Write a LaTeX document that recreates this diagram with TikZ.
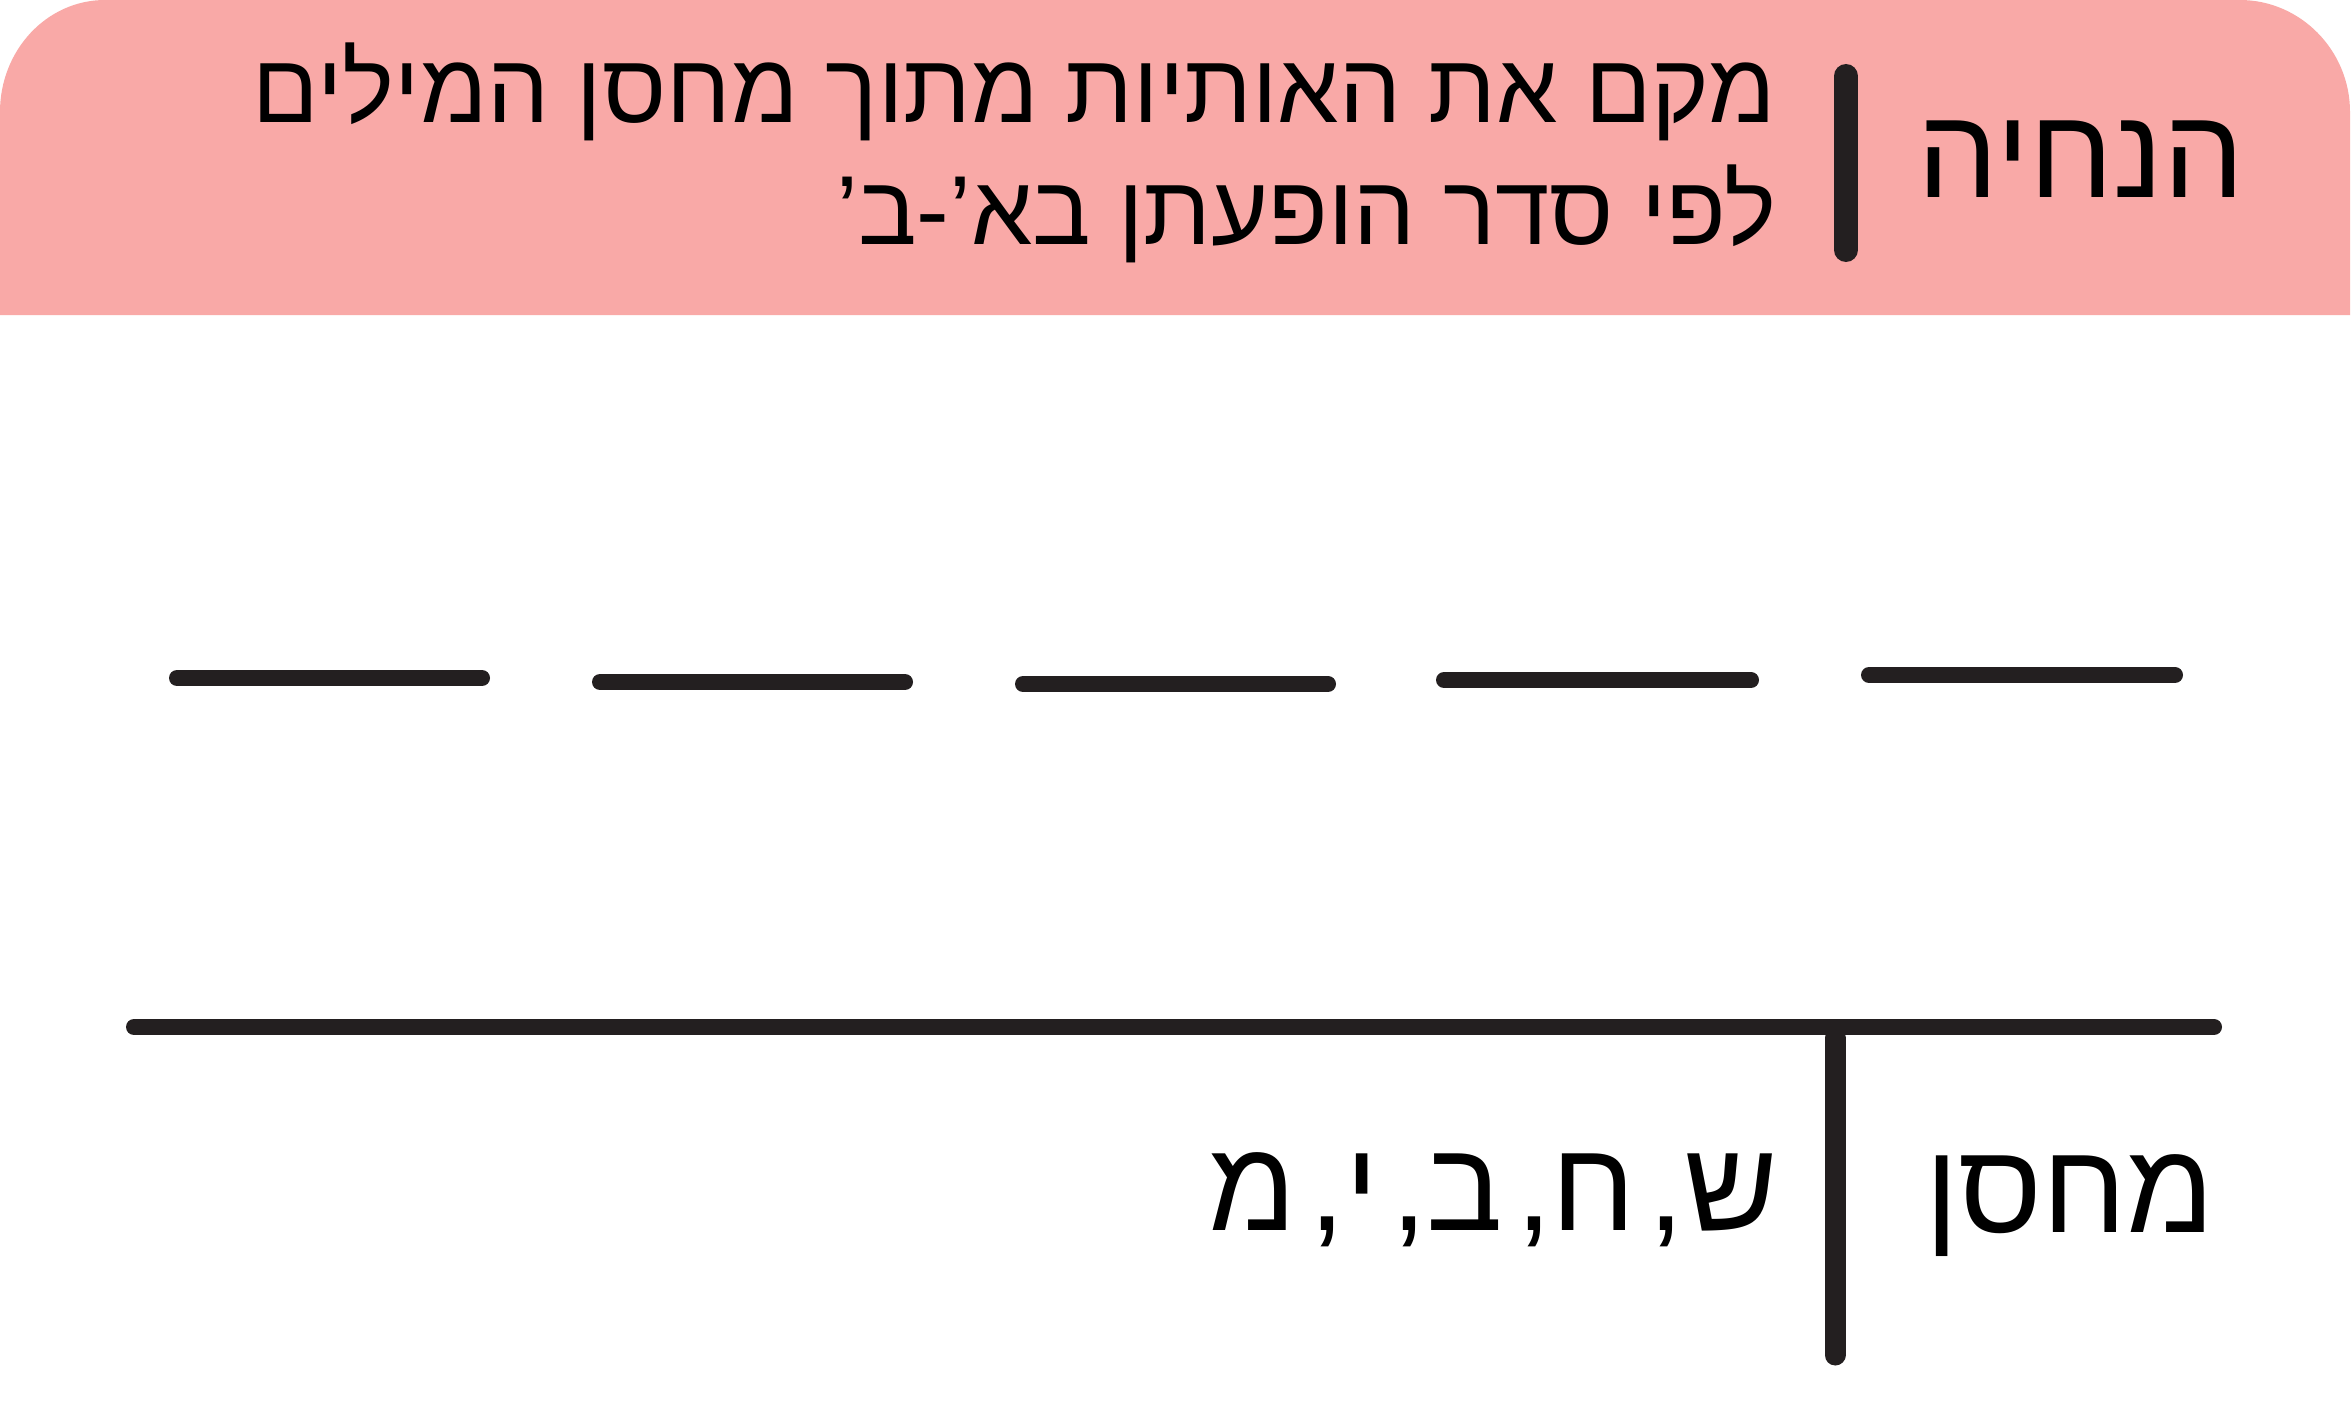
\documentclass[tikz,border=0pt]{standalone}
\usepackage{fontspec}
\TeXXeTstate=1
\newfontfamily\heb[Script=Hebrew]{Liberation Sans}
\definecolor{pinkbg}{RGB}{249,169,167}
\definecolor{ink}{RGB}{35,31,32}
\newcommand{\gapsp}{\hspace{0.1em}}
\tikzset{
  blankline/.style={draw=ink, line width=8pt, line cap=round},
  tline/.style={draw=ink, line width=8pt, line cap=round},
  vline/.style={draw=ink, line width=10.5pt, line cap=round},
  bigtext/.style={anchor=base east, inner sep=0pt, font=\heb\fontsize{64}{72}\selectfont},
  midtext/.style={anchor=base east, inner sep=0pt, font=\heb\fontsize{49}{56}\selectfont}
}
\begin{document}
\begin{tikzpicture}[x=0.5pt,y=-0.5pt]
\useasboundingbox (0,0) rectangle (2351,1418);
\fill[white] (0,0) rectangle (2351,1418);
% header band
\fill[pinkbg] (0,315) -- (0,112) .. controls (0,50) and (47,0) .. (105,0)
  -- (2240,0) .. controls (2300,0) and (2350,50) .. (2350,112) -- (2350,315) -- cycle;
% header texts
\node[bigtext] (title) at (2245,198) {\beginR הנחיה\endR};
\coordinate (bt) at (1846,76);
\coordinate (bb) at (1846,250);
\draw[vline, line width=12pt] (bt) -- (bb);
\node[midtext] (instr1) at (1776,123) {\beginR מקם את האותיות מתוך מחסן המילים\endR};
\node[midtext] (instr2) at (1777,244) {\beginR לפי סדר הופעתן בא’-ב’\endR};
% blanks
\draw[blankline] (177,678) -- (482,678);
\draw[blankline] (600,682) -- (905,682);
\draw[blankline] (1023,684) -- (1328,684);
\draw[blankline] (1444,680) -- (1751,680);
\draw[blankline] (1869,675) -- (2175,675);
% T chart
\coordinate (hl) at (134,1027);
\coordinate (hr) at (2214,1027);
\coordinate (vt) at (1835,1038);
\coordinate (vb) at (1835,1355);
\draw[tline] (hl) -- (hr);
\draw[vline] (vt) -- (vb);
\node[bigtext] (store) at (2215,1232) {\beginR מחסן\endR};
\node[bigtext] (letters) at (1778,1230) {\beginR ש,\gapsp ח,\gapsp ב,\gapsp י,\gapsp מ\endR};
\end{tikzpicture}
\end{document}
